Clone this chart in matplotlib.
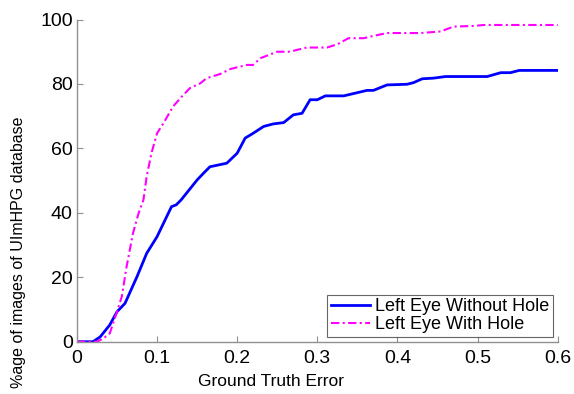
import numpy as np
import matplotlib
matplotlib.use("Agg")
from matplotlib import pyplot as plt

# values
errNoHole = [0.0, 0.02, 0.029, 0.041, 0.05, 0.06, 0.075, 0.087, 0.1, 0.118, 0.124, 0.13,
             0.15, 0.158, 0.166, 0.187, 0.2, 0.21, 0.22, 0.233, 0.245, 0.258, 0.27, 0.281,
             0.291, 0.3, 0.31, 0.333, 0.362, 0.37, 0.387, 0.412, 0.42, 0.431, 0.445, 0.46,
             0.512, 0.529, 0.541, 0.552, 0.6]
pctNoHole = [0.0, 0.0, 1.5, 5.2, 9.3, 11.9, 20.2, 27.4, 32.6, 41.9, 42.5, 44.0,
             50.2, 52.3, 54.3, 55.4, 58.5, 63.2, 64.7, 66.8, 67.6, 68.0, 70.4, 70.9,
             75.1, 75.1, 76.3, 76.3, 78.0, 78.0, 79.7, 79.9, 80.4, 81.6, 81.8, 82.3,
             82.3, 83.5, 83.5, 84.2, 84.2]

errHole = [0.0, 0.025, 0.033, 0.041, 0.05, 0.056, 0.062, 0.07, 0.077, 0.083, 0.087, 0.093,
           0.1, 0.108, 0.12, 0.131, 0.141, 0.154, 0.162, 0.179, 0.191, 0.212, 0.22, 0.229,
           0.25, 0.266, 0.275, 0.287, 0.312, 0.325, 0.339, 0.358, 0.37, 0.387, 0.429, 0.454,
           0.47, 0.495, 0.508, 0.6]
pctHole = [0.0, 0.0, 1.0, 2.6, 9.3, 14.0, 23.3, 33.7, 39.9, 44.0, 51.2, 58.5,
           64.7, 67.8, 73.0, 76.1, 78.7, 80.2, 81.8, 83.1, 84.6, 85.9, 85.9, 88.0,
           90.0, 90.0, 90.6, 91.3, 91.3, 92.3, 94.2, 94.2, 94.9, 95.8, 95.8, 96.3,
           97.8, 98.0, 98.3, 98.3]

xTicks = [0, 0.1, 0.2, 0.3, 0.4, 0.5, 0.6]
xTickLabels = ['0', '0.1', '0.2', '0.3', '0.4', '0.5', '0.6']
yTicks = [0, 20, 40, 60, 80, 100]

plt.rcParams['font.family'] = ['Liberation Sans', 'DejaVu Sans']

fig = plt.figure(figsize=(5.74, 3.94), dpi=100)
ax = fig.add_axes([0.134, 0.1327, 0.8376, 0.8178])

ax.plot(errNoHole, pctNoHole, color='#0000ff', linewidth=2.0, label='Left Eye Without Hole')
ax.plot(errHole, pctHole, color='#ff00ff', linewidth=1.5, linestyle=(0, (4, 1.6, 1, 1.6)),
        label='Left Eye With Hole')

ax.set_xlim(0, 0.6)
ax.set_ylim(0, 100)
ax.set_xticks(xTicks)
ax.set_xticklabels(xTickLabels)
ax.set_yticks(yTicks)

for side in ['top', 'right']:
    ax.spines[side].set_visible(False)
for side in ['left', 'bottom']:
    ax.spines[side].set_color('#909090')
    ax.spines[side].set_linewidth(1.0)

ax.tick_params(direction='in', length=4, color='#909090', labelsize=14)
ax.tick_params(axis='y', pad=3)
ax.tick_params(axis='x', pad=6)

# label positions as in the reference (ylabel sits low, not centred)
ax.set_xlabel('Ground Truth Error', fontsize=12.5)
ax.xaxis.set_label_coords(0.404, -0.1)
ax.set_ylabel('%age of images of UImHPG database', fontsize=11.5)
ax.yaxis.set_label_coords(-0.105, 0.278)

leg = ax.legend(loc='lower right', fontsize=13, frameon=True, fancybox=False,
                handlelength=2.2, borderpad=0.2, labelspacing=0.05, handletextpad=0.25,
                borderaxespad=0.27)
leg.get_frame().set_edgecolor('#404040')
leg.get_frame().set_linewidth(0.8)

fig.savefig('out.png', dpi=100)
